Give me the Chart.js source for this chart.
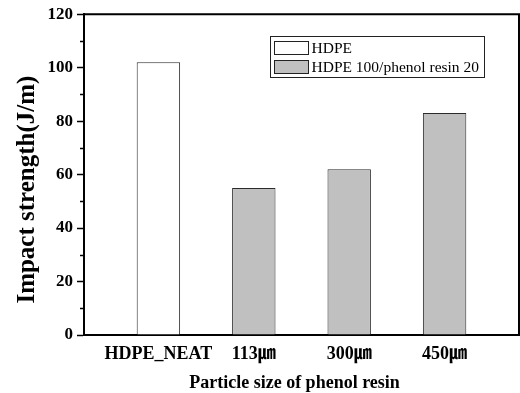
<!DOCTYPE html>
<html>
<head>
<meta charset="utf-8">
<script src="https://cdn.jsdelivr.net/npm/chart.js@4/dist/chart.umd.min.js"></script>
<style>
  html, body { margin: 0; padding: 0; background: #fff; }
  #wrap { width: 520px; height: 393px; position: relative; }
</style>
</head>
<body>
<div id="wrap"><canvas id="c"></canvas></div>
<script>
// Impact strength by phenol resin particle size
const categories = ['HDPE_NEAT', '113㎛', '300㎛', '450㎛'];
const seriesNames = ['HDPE', 'HDPE 100/phenol resin 20'];
const neatValues = [102, null, null, null];
const blendValues = [null, 55, 62, 83];
const yTickStep = 20;
const yMax = 120;
const xTitle = 'Particle size of phenol resin';
const yTitle = 'Impact strength(J/m)';

const SERIF = "'Liberation Serif', 'Times New Roman', 'Noto Sans CJK KR', serif";
const INK = '#000';
const EDGE = '#2b2b2b';

const toPoints = arr => arr.map((v, i) => ({ x: i, y: v })).filter(p => p.y !== null);

// Closes the box on the top and right of the plot area
const frame = {
  id: 'frame',
  afterDatasetsDraw(chart) {
    const { ctx, chartArea: a } = chart;
    ctx.save();
    ctx.strokeStyle = INK;
    ctx.lineWidth = 2;
    ctx.beginPath();
    ctx.moveTo(a.left, a.top);
    ctx.lineTo(a.right, a.top);
    ctx.lineTo(a.right, a.bottom);
    ctx.stroke();
    ctx.restore();
  }
};

// Short minor ticks halfway between the labelled y ticks
const minorTicks = {
  id: 'minorTicks',
  afterDraw(chart) {
    const s = chart.scales.y;
    const { ctx } = chart;
    ctx.save();
    ctx.strokeStyle = INK;
    ctx.lineWidth = 1.5;
    for (let i = 0; i < s.ticks.length - 1; i++) {
      const mid = (s.ticks[i].value + s.ticks[i + 1].value) / 2;
      const py = Math.round(s.getPixelForValue(mid)) + 0.5;
      ctx.beginPath();
      ctx.moveTo(s.right - 4, py);
      ctx.lineTo(s.right, py);
      ctx.stroke();
    }
    ctx.restore();
  }
};

// Axis titles, placed relative to the plot area
const axisTitles = {
  id: 'axisTitles',
  afterDraw(chart, args, opts) {
    const { ctx, chartArea: a } = chart;
    ctx.save();
    ctx.fillStyle = INK;
    ctx.textAlign = 'center';
    ctx.textBaseline = 'alphabetic';
    // horizontal title under the x axis
    ctx.font = opts.x.font;
    ctx.fillText(opts.x.text, (a.left + a.right) / 2 + opts.x.dx, opts.x.baseline);
    // vertical title left of the y axis
    ctx.font = opts.y.font;
    ctx.translate(opts.y.baseline, (a.top + a.bottom) / 2 + opts.y.dy);
    ctx.rotate(-Math.PI / 2);
    ctx.fillText(opts.y.text, 0, 0);
    ctx.restore();
  }
};

// Boxed legend placed inside the plot area
const boxLegend = {
  id: 'boxLegend',
  afterDraw(chart, args, opts) {
    const { ctx, chartArea: a } = chart;
    const x0 = a.left + opts.offsetX, y0 = a.top + opts.offsetY;
    ctx.save();
    ctx.font = opts.font;
    const widths = chart.data.datasets.map(d => ctx.measureText(d.label).width);
    const w = opts.padLeft + opts.swatchW + opts.gap + Math.max(...widths) + opts.padRight;
    const h = opts.padTop + chart.data.datasets.length * opts.rowH - (opts.rowH - opts.swatchH) + opts.padBottom;
    ctx.fillStyle = '#fff';
    ctx.fillRect(x0, y0, w, h);
    ctx.strokeStyle = '#222';
    ctx.lineWidth = 1;
    ctx.strokeRect(Math.round(x0) + 0.5, Math.round(y0) + 0.5, Math.round(w), Math.round(h));
    chart.data.datasets.forEach((d, i) => {
      const sx = Math.round(x0 + opts.padLeft) + 0.5;
      const sy = Math.round(y0 + opts.padTop + i * opts.rowH) + 0.5;
      ctx.fillStyle = d.backgroundColor;
      ctx.fillRect(sx, sy, opts.swatchW, opts.swatchH);
      ctx.strokeStyle = '#222';
      ctx.strokeRect(sx, sy, opts.swatchW, opts.swatchH);
      ctx.fillStyle = INK;
      ctx.textBaseline = 'middle';
      ctx.textAlign = 'left';
      ctx.fillText(d.label, sx + opts.swatchW + opts.gap, sy + opts.swatchH / 2 + 1);
    });
    ctx.restore();
  }
};

new Chart(document.getElementById('c'), {
  type: 'bar',
  data: {
    datasets: [
      {
        label: seriesNames[0],
        data: toPoints(neatValues),
        backgroundColor: '#ffffff',
        borderColor: EDGE,
        borderWidth: 1
      },
      {
        label: seriesNames[1],
        data: toPoints(blendValues),
        backgroundColor: '#c0c0c0',
        borderColor: EDGE,
        borderWidth: 1
      }
    ]
  },
  options: {
    responsive: true,
    maintainAspectRatio: false,
    animation: false,
    grouped: false,
    barPercentage: 0.455,
    categoryPercentage: 1,
    layout: { padding: { top: 14, right: 1, left: 0, bottom: 0 } },
    plugins: {
      legend: { display: false },
      tooltip: { enabled: false },
      axisTitles: {
        x: { text: xTitle, font: 'bold 18px ' + SERIF, dx: -7, baseline: 388 },
        y: { text: yTitle, font: 'bold 25px ' + SERIF, dy: 15, baseline: 34 }
      },
      boxLegend: {
        offsetX: 186, offsetY: 22,
        font: "15.5px " + SERIF,
        padLeft: 4, padRight: 6, padTop: 5, padBottom: 4,
        swatchW: 34, swatchH: 13, rowH: 19, gap: 3
      }
    },
    scales: {
      x: {
        type: 'linear',
        offset: false,
        min: -0.78,
        max: 3.78,
        afterBuildTicks: s => { s.ticks = categories.map((_, i) => ({ value: i })); },
        afterFit: s => { s.height = 58; },
        ticks: {
          callback: v => categories[v],
          color: INK,
          padding: 9,
          font: { family: SERIF, size: 18, weight: 'bold' },
          maxRotation: 0,
          autoSkip: false
        },
        grid: { display: false, drawTicks: false, offset: false },
        border: { display: true, color: INK, width: 2 },
        title: { display: false }
      },
      y: {
        min: 0,
        max: yMax,
        afterFit: s => { s.width = 84; },
        ticks: {
          stepSize: yTickStep,
          color: INK,
          padding: 4,
          font: { family: SERIF, size: 17, weight: 'bold' }
        },
        grid: {
          drawOnChartArea: false,
          drawTicks: true,
          tickLength: 7,
          tickColor: INK,
          tickWidth: 1.5
        },
        border: { display: true, color: INK, width: 2 },
        title: { display: false }
      }
    }
  },
  plugins: [frame, minorTicks, axisTitles, boxLegend]
});
</script>
</body>
</html>
